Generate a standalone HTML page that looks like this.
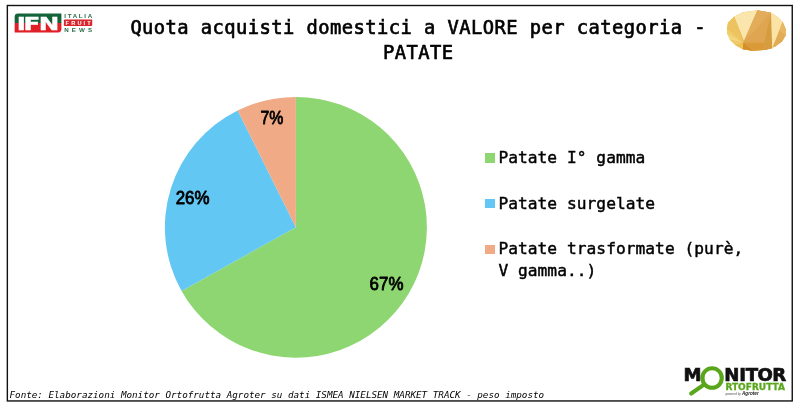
<!DOCTYPE html>
<html lang="it">
<head>
<meta charset="utf-8">
<title>Quota acquisti domestici a VALORE per categoria - PATATE</title>
<style>
  html, body { margin: 0; padding: 0; background: #ffffff; }
  body { width: 800px; height: 408px; position: relative; overflow: hidden;
         font-family: "DejaVu Sans Mono", "Liberation Mono", monospace; color: #000; }
  #gfx { position: absolute; left: 0; top: 0; width: 800px; height: 408px; }
  .title { position: absolute; left: 118.2px; top: 14.5px; width: 600px; text-align: center;
           font-size: 18.8px; letter-spacing: 0.44px; line-height: 25.4px; font-weight: normal; margin: 0;
           -webkit-text-stroke: 0.65px #000; }
  .legend { position: absolute; left: 483px; top: 0; margin: 0; padding: 0; list-style: none;
            font-size: 16.2px; line-height: 21.5px; -webkit-text-stroke: 0.45px #000; }
  .legend li { position: absolute; left: 0; width: 266px; padding-left: 15.4px; letter-spacing: 0.05px; box-sizing: border-box; }
  .legend li i { position: absolute; left: 2.3px; top: 6.1px; width: 9.6px; height: 9.6px; display: block; }
  .legend li.l3 i { top: 6.9px; }
  .legend li.l1 { top: 147px; }
  .legend li.l2 { top: 192.5px; }
  .legend li.l3 { top: 238px; }
  .footer { position: absolute; left: 9.5px; top: 388.4px; margin: 0; white-space: nowrap;
            font-size: 9.25px; line-height: 14px; font-style: italic; }
  .pct { font-family: "Liberation Sans", "DejaVu Sans", sans-serif; font-weight: normal; font-size: 18px; }
  .logo { font-family: "DejaVu Sans", "Liberation Sans", sans-serif; font-weight: bold; }
  .ring { font-weight: 200; }
  .logos { font-family: "Liberation Sans", "DejaVu Sans", sans-serif; font-weight: bold; }
</style>
</head>
<body>
<svg id="gfx" viewBox="0 0 800 408" width="800" height="408">
  <!-- outer frame -->
  <rect x="7.35" y="5.5" width="784.9" height="395.45" fill="#ffffff" stroke="#111111" stroke-width="1.4"/>

  <!-- pie chart -->
  <g id="pie">
    <!-- green 67% -->
    <path d="M295.9 227.3 L295.9 96.9 A131.0 130.4 0 1 1 181.55 290.92 Z" fill="#8ed672"/>
    <!-- blue 26% -->
    <path d="M295.9 227.3 L181.55 290.92 A131.0 130.4 0 0 1 237.65 110.5 Z" fill="#62c7f2"/>
    <!-- salmon 7% -->
    <path d="M295.9 227.3 L237.65 110.5 A131.0 130.4 0 0 1 295.9 96.9 Z" fill="#f0aa86"/>
  </g>
  <g class="pct" text-anchor="middle" fill="#000" stroke="#000" stroke-width="0.8" stroke-linejoin="round">
    <text transform="translate(271.9 123.5) scale(0.88 1)">7%</text>
    <text transform="translate(192.6 203.5) scale(0.94 1)">26%</text>
    <text transform="translate(386.5 290.4) scale(0.94 1)">67%</text>
  </g>

  <!-- IFN Italia Fruit News logo -->
  <g id="ifn">
    <path d="M18.1 13.6 H61.4 V23 H14.65 V17 A3.4 3.4 0 0 1 18.1 13.6 Z" fill="#14643a"/>
    <path d="M14.65 23 H61.4 V29 A3.4 3.4 0 0 1 58 32.4 H14.65 Z" fill="#e01f26"/>
    <text class="logo" transform="translate(0 29.6) scale(1.36 1)" x="12.35 17.38 28.49" font-size="18.04" fill="#ffffff" stroke="#ffffff" stroke-width="0.4">IFN</text>
    <text class="logos" x="64.2" y="18" font-size="6.2" fill="#2b6b49" textLength="28" lengthAdjust="spacing">ITALIA</text>
    <rect x="63.9" y="19.4" width="28.3" height="6.6" rx="0.8" fill="#d8252d"/>
    <text class="logos" x="65.6" y="24.8" font-size="5.7" fill="#ffffff" textLength="25.2" lengthAdjust="spacing">FRUIT</text>
    <text class="logos" x="64.2" y="32.4" font-size="6.2" fill="#2b6b49" textLength="28" lengthAdjust="spacing">NEWS</text>
  </g>

  <!-- potato -->
  <g id="potato" transform="translate(722 6) scale(0.12259)">
    <polygon points="40,185 50,135 100,85 170,50 290,35 400,55 455,90 495,130 520,190 520,240 490,290 430,335 350,358 250,365 170,352 110,320 65,275 42,225" fill="#e9bb58"/>
    <polygon points="100,85 50,135 40,185 175,300" fill="#ecc35e"/>
    <polygon points="40,185 42,225 175,300" fill="#f1cd6c"/>
    <polygon points="42,225 65,275 175,300" fill="#f4d67c"/>
    <polygon points="65,275 110,320 175,300" fill="#f0cb66"/>
    <polygon points="110,320 170,352 175,300" fill="#ecc257"/>
    <polygon points="100,85 170,50 290,35 255,110 180,285" fill="#fae5ac"/>
    <polygon points="290,35 180,285 240,150" fill="#fcebbd"/>
    <polygon points="290,35 400,55 410,345 350,358 250,365 170,352 175,300 180,285" fill="#dfa550"/>
    <polygon points="290,35 400,55 180,288" fill="#e3ac5b"/>
    <polygon points="400,55 410,345 350,358 345,300" fill="#d59c40"/>
    <polygon points="175,300 340,300 350,358 250,365 170,352" fill="#da9a38"/>
    <polygon points="175,300 250,365 170,352" fill="#d48f2a"/>
    <polygon points="400,55 455,90 495,130 415,335 410,345" fill="#fbe3a5"/>
    <polygon points="495,130 520,190 520,240 490,290 430,335 415,335" fill="#e2ac57"/>
    <polygon points="495,130 520,190 520,240 470,200" fill="#e8b764"/>
  </g>

  <!-- Monitor Ortofrutta logo -->
  <g id="monitor">
    <line x1="704" y1="384.6" x2="691.2" y2="393.5" stroke="#5aa61c" stroke-width="4.1" stroke-linecap="round"/>
    <circle cx="712.1" cy="378.1" r="9.75" fill="#ffffff" stroke="#5aa61c" stroke-width="4"/>
    <text class="logo" font-size="18.1" fill="#111111" stroke="#111111" stroke-width="0.7"><tspan x="683.4" y="381.1">M</tspan><tspan class="ring" x="700.28" y="389.02" font-size="30" fill="#5aa61c" stroke="none">O</tspan><tspan x="724.23 739.13 745.7 757.4 772.3" y="381.1">NITOR</tspan></text>
    <text class="logo" x="725.4" y="389.9" font-size="8.6" fill="#5aa61c" stroke="#5aa61c" stroke-width="0.3" textLength="59.6" lengthAdjust="spacingAndGlyphs">RTOFRUTTA</text>
    <text class="logos" x="725.4" y="395" font-size="2.6" fill="#777777" textLength="15.5" lengthAdjust="spacingAndGlyphs">powered by</text>
    <text class="logos" x="742" y="395" font-size="4.6" font-style="italic" fill="#222222" textLength="16.7" lengthAdjust="spacingAndGlyphs">Agroter</text>
  </g>
</svg>

<h1 class="title">Quota acquisti domestici a VALORE per categoria - PATATE</h1>

<ul class="legend">
  <li class="l1"><i style="background:#8ed672"></i>Patate I° gamma</li>
  <li class="l2"><i style="background:#62c7f2"></i>Patate surgelate</li>
  <li class="l3"><i style="background:#f0aa86"></i>Patate trasformate (purè, V gamma..)</li>
</ul>

<p class="footer">Fonte: Elaborazioni Monitor Ortofrutta Agroter su dati ISMEA NIELSEN MARKET TRACK - peso imposto</p>
</body>
</html>
